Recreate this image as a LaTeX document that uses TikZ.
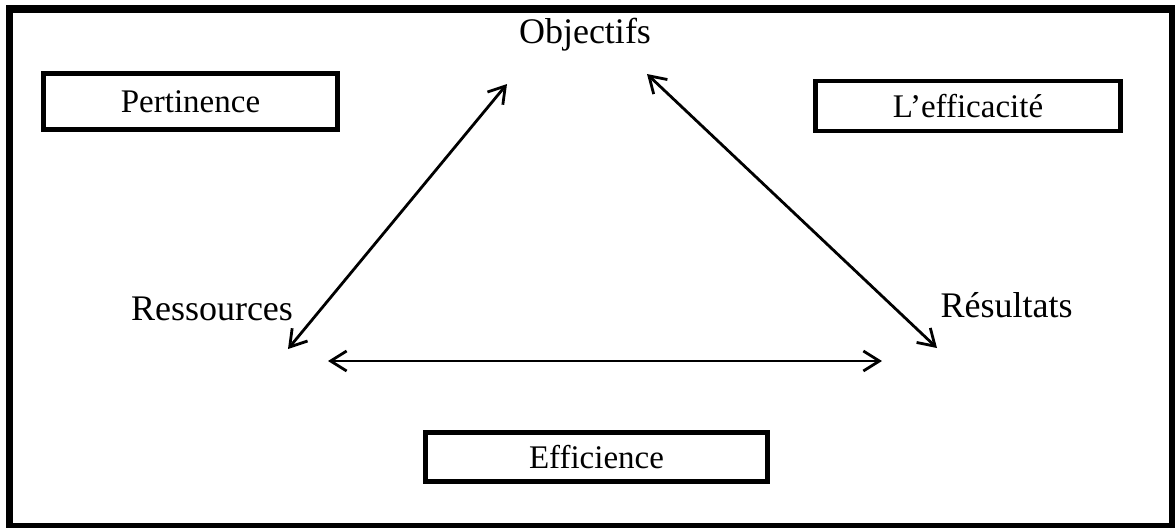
\documentclass[tikz,border=0pt]{standalone}
\usepackage{fontspec}
\setmainfont{Liberation Serif}
\usetikzlibrary{arrows.meta}
\begin{document}
\begin{tikzpicture}[x=0.5pt,y=-0.5pt,
  frame/.style={line width=3.8pt},
  boxlbl/.style={draw,line width=2.2pt,minimum height=28pt,inner sep=0pt,font=\fontsize{16.5pt}{19pt}\selectfont},
  lbl/.style={anchor=base,inner sep=0pt,font=\fontsize{18pt}{21pt}\selectfont},
  conn/.style={line width=1.4pt,{Straight Barb[length=8pt,width=10pt]}-{Straight Barb[length=8pt,width=10pt]}}]
\useasboundingbox (0,0) rectangle (1175,527);
\draw[frame] (9.5,9) rectangle (1172.5,526.5);
% boxes
\node[boxlbl,minimum width=147pt] (pert) at (190.5,101.5) {Pertinence};
\node[boxlbl,minimum width=152.5pt,minimum height=25pt] (effic) at (968,106) {L’efficacité};
\node[boxlbl,minimum width=171pt,minimum height=24.5pt] (effi) at (596.5,457) {Efficience};
% labels
\node[lbl] (obj) at (585,43) {Objectifs};
\node[lbl] (res) at (212,320) {Ressources};
\node[lbl] (rsl) at (1006.5,317) {Résultats};
% arrow ends
\coordinate (objL) at (507,84);
\coordinate (objR) at (647,74);
\coordinate (resA) at (288,349);
\coordinate (resB) at (328,361);
\coordinate (rslA) at (937,348);
\coordinate (rslB) at (882,361);
\draw[conn] (resA) -- (objL);
\draw[conn] (objR) -- (rslA);
\draw[conn] (resB) -- (rslB);
\end{tikzpicture}
\end{document}
